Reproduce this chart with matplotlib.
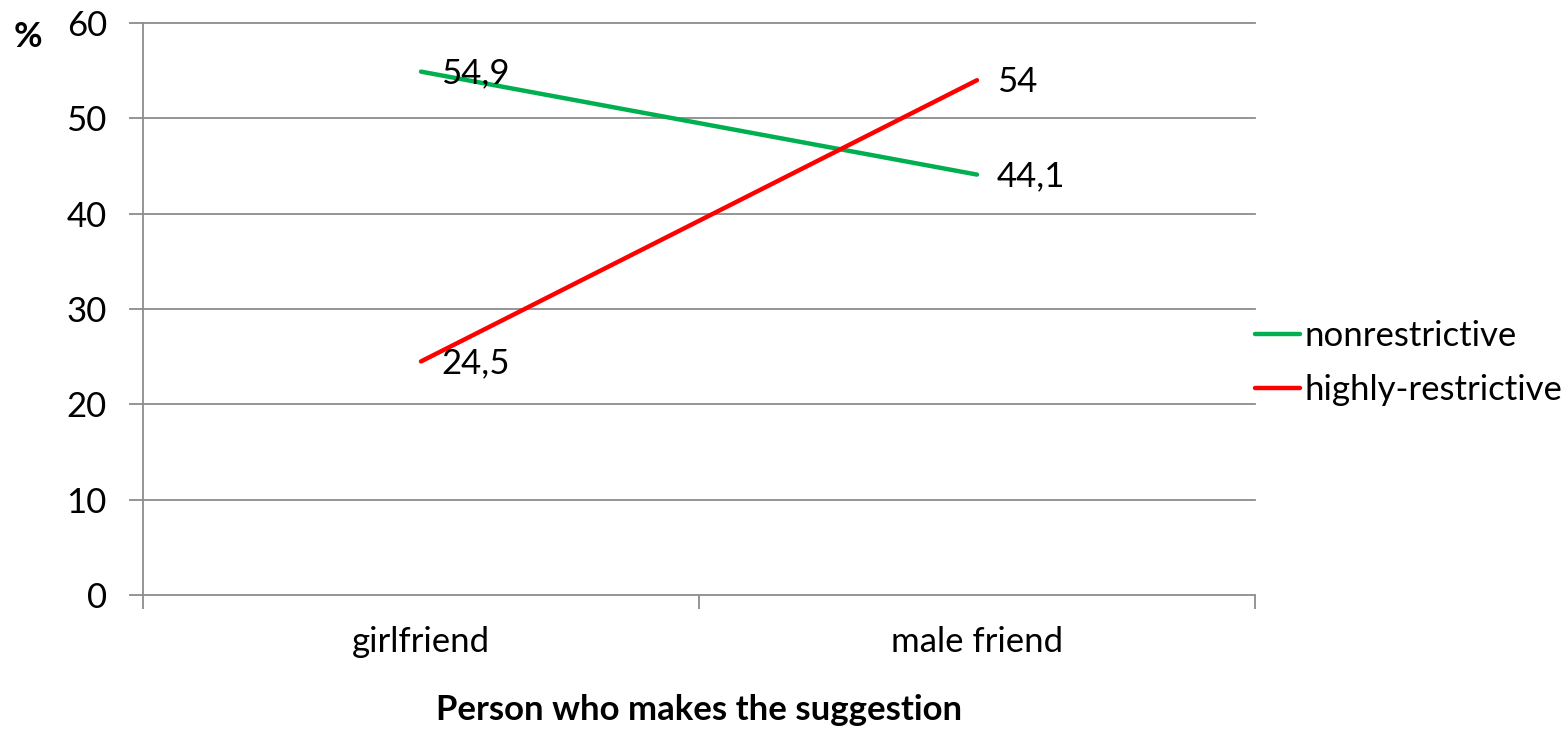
import matplotlib
matplotlib.use("Agg")
import matplotlib.pyplot as plt

categories = ["girlfriend", "male friend"]
series_names = ["nonrestrictive", "highly-restrictive"]
nonrestrictive = [54.9, 44.1]
highly_restrictive = [24.5, 54.0]
labels_nonrestrictive = ["54,9", "44,1"]
labels_highly = ["24,5", "54"]
y_ticks = [0, 10, 20, 30, 40, 50, 60]

W, H = 1566, 729
FS = 25
fig = plt.figure(figsize=(W / 100, H / 100), dpi=100)
plt.rcParams['font.family'] = ['Lato', 'DejaVu Sans']
ax = fig.add_axes([143 / W, 1 - 595 / H, (1255 - 143) / W, (595 - 23) / H])

xpos = [0.5, 1.5]
grid_c = "#8c8c8c"
for y in y_ticks:
    ax.axhline(y, color=grid_c, lw=1.3, zorder=1, clip_on=False)
l1, = ax.plot(xpos, nonrestrictive, color="#00B050", lw=3.2, solid_capstyle="round", zorder=3)
l2, = ax.plot(xpos, highly_restrictive, color="#FF0000", lw=3.2, solid_capstyle="round", zorder=3)

for x, v, t in zip(xpos, nonrestrictive, labels_nonrestrictive):
    ax.annotate(t, (x, v), xytext=(20, -2), textcoords="offset pixels", va="center", ha="left", fontsize=FS)
for x, v, t in zip(xpos, highly_restrictive, labels_highly):
    ax.annotate(t, (x, v), xytext=(20, -2), textcoords="offset pixels", va="center", ha="left", fontsize=FS)

ax.set_xlim(0, 2)
ax.set_ylim(0, 60)
ax.set_yticks(y_ticks)
ax.set_xticks([0, 1, 2])
ax.set_xticklabels([])
ax.set_xticks(xpos, minor=True)
ax.set_xticklabels(categories, minor=True, fontsize=FS)
ax.tick_params(axis="x", which="major", length=10, color=grid_c, width=1.3, direction="out")
ax.tick_params(axis="x", which="minor", length=0, pad=22)
ax.tick_params(axis="y", length=10, color=grid_c, width=1.3, labelsize=FS, pad=16)
for s in ["top", "right", "bottom"]:
    ax.spines[s].set_visible(False)
ax.spines["left"].set_color(grid_c)
ax.spines["left"].set_linewidth(1.3)

ax.set_xlabel("Person who makes the suggestion", fontsize=FS, fontweight="bold", labelpad=26)
fig.text(28 / W, 1 - 37 / H, "%", fontsize=FS, fontweight="bold", ha="center", va="center")

leg = fig.legend([l1, l2], series_names, loc="center left", bbox_to_anchor=(1255 / W, 1 - 363 / H),
                 frameon=False, fontsize=FS, handlelength=1.3, handletextpad=0.12,
                 labelspacing=0.62, borderpad=0, borderaxespad=0)

fig.savefig("out.png", dpi=100)
